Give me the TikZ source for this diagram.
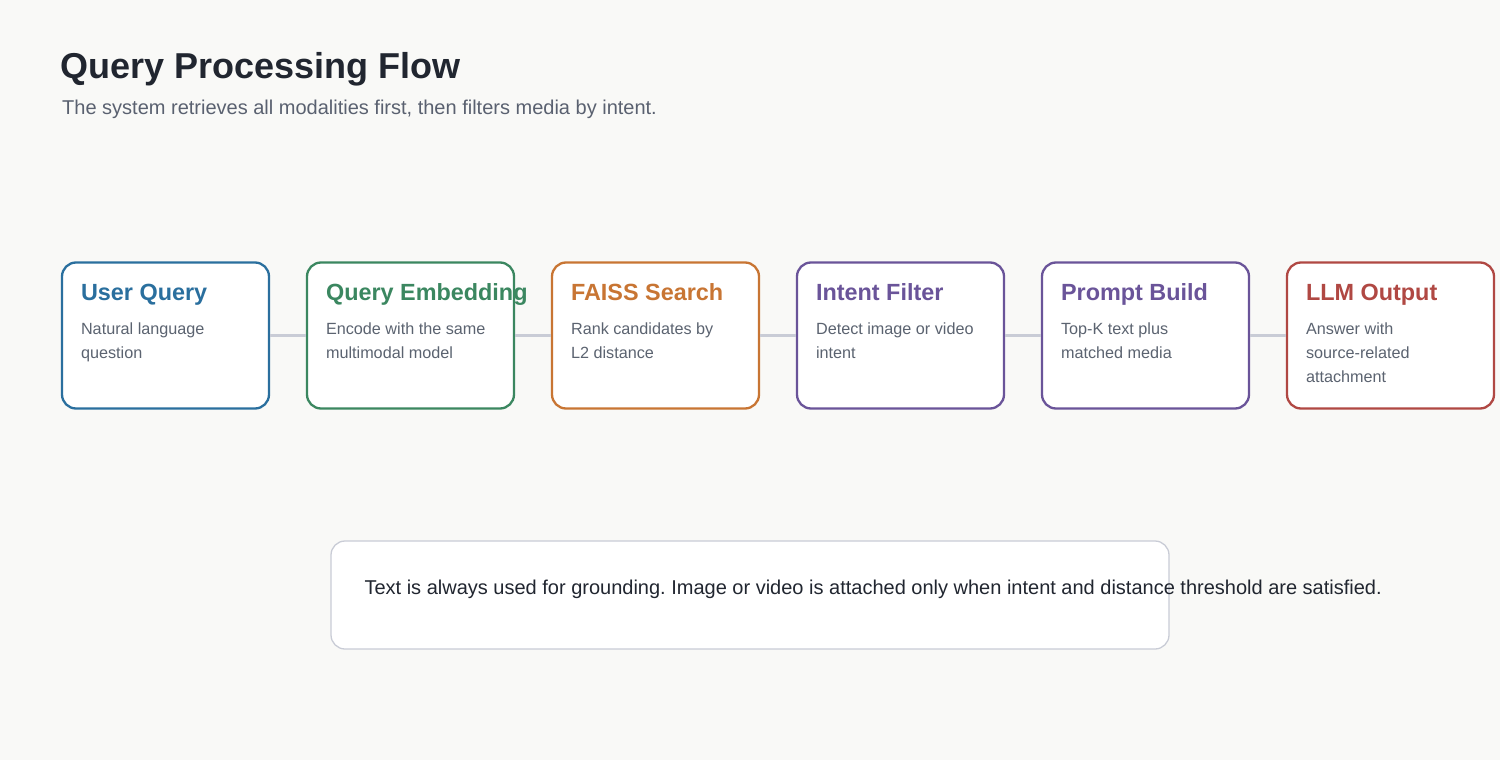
\documentclass[tikz,border=0pt]{standalone}
\usepackage{fontspec}
\setmainfont{Liberation Sans}
\usepackage{xcolor}
\usetikzlibrary{positioning,calc}

\definecolor{bgcol}{HTML}{F9F9F7}
\definecolor{titlecol}{HTML}{212630}
\definecolor{subcol}{HTML}{5A6170}
\definecolor{desccol}{HTML}{5B6370}
\definecolor{linkcol}{HTML}{C9CCD6}
\definecolor{cblue}{HTML}{2A6F9E}
\definecolor{cgreen}{HTML}{3B8760}
\definecolor{corange}{HTML}{C87533}
\definecolor{cpurple}{HTML}{6A5499}
\definecolor{cred}{HTML}{B04843}

\tikzset{
  stagebox/.style={draw, line width=2.3pt, rounded corners=14pt, fill=white,
    minimum width=207pt, minimum height=146pt, inner sep=0pt},
  stagetitle/.style={anchor=base west, inner sep=0pt, font=\bfseries\fontsize{23.4}{28}\selectfont},
  stagedesc/.style={anchor=base west, inner sep=0pt, text=desccol, font=\fontsize{16.2}{24}\selectfont},
  link/.style={draw=linkcol, line width=3.5pt}
}

\begin{document}
\frenchspacing
\begin{tikzpicture}[x=1pt,y=-1pt]
\useasboundingbox[fill=bgcol] (0,0) rectangle (1500,760);

% heading
\node[anchor=base west, inner sep=0pt, text=titlecol, font=\bfseries\fontsize{36}{42}\selectfont]
  (title) at (60,78) {Query Processing Flow};
\node[anchor=base west, inner sep=0pt, text=subcol, font=\fontsize{20}{24}\selectfont]
  (subtitle) at (62,114) {The system retrieves all modalities first, then filters media by intent.};

% stages
\node[stagebox, draw=cblue] (query) at (165.5,335.5) {};
\node[stagebox, draw=cgreen, right=35.7pt of query] (embed) {};
\node[stagebox, draw=corange, right=35.7pt of embed] (faiss) {};
\node[stagebox, draw=cpurple, right=35.7pt of faiss] (intent) {};
\node[stagebox, draw=cpurple, right=35.7pt of intent] (prompt) {};
\node[stagebox, draw=cred, right=35.7pt of prompt] (llm) {};

% links
\draw[link] (query.east) -- (embed.west);
\draw[link] (embed.east) -- (faiss.west);
\draw[link] (faiss.east) -- (intent.west);
\draw[link] (intent.east) -- (prompt.west);
\draw[link] (prompt.east) -- (llm.west);

% stage texts
\node[stagetitle, text=cblue] (queryT) at ($(query.north west)+(20,39)$) {User Query};
\node[stagedesc] (queryD) at ($(query.north west)+(20,73.5)$)
  {\parbox[t]{190pt}{Natural language\\question}};
\node[stagetitle, text=cgreen] (embedT) at ($(embed.north west)+(20,39)$) {Query Embedding};
\node[stagedesc] (embedD) at ($(embed.north west)+(20,73.5)$)
  {\parbox[t]{190pt}{Encode with the same\\multimodal model}};
\node[stagetitle, text=corange] (faissT) at ($(faiss.north west)+(20,39)$) {FAISS Search};
\node[stagedesc] (faissD) at ($(faiss.north west)+(20,73.5)$)
  {\parbox[t]{190pt}{Rank candidates by\\L2 distance}};
\node[stagetitle, text=cpurple] (intentT) at ($(intent.north west)+(20,39)$) {Intent Filter};
\node[stagedesc] (intentD) at ($(intent.north west)+(20,73.5)$)
  {\parbox[t]{190pt}{Detect image or video\\intent}};
\node[stagetitle, text=cpurple] (promptT) at ($(prompt.north west)+(20,39)$) {Prompt Build};
\node[stagedesc] (promptD) at ($(prompt.north west)+(20,73.5)$)
  {\parbox[t]{190pt}{Top-K text plus\\matched media}};
\node[stagetitle, text=cred] (llmT) at ($(llm.north west)+(20,39)$) {LLM Output};
\node[stagedesc] (llmD) at ($(llm.north west)+(20,73.5)$)
  {\parbox[t]{190pt}{Answer with\\source-related\\attachment}};

% note
\node[draw=linkcol, line width=1.3pt, rounded corners=14pt, fill=white,
  minimum width=838pt, minimum height=108pt, inner sep=0pt] (note) at (750,595) {};
\node[anchor=base west, inner sep=0pt, text=titlecol, font=\fontsize{20}{24}\selectfont]
  (noteT) at ($(note.west)+(34,-1)$) {Text is always used for grounding. Image or video is attached only when intent and distance threshold are satisfied.};
\end{tikzpicture}
\end{document}
